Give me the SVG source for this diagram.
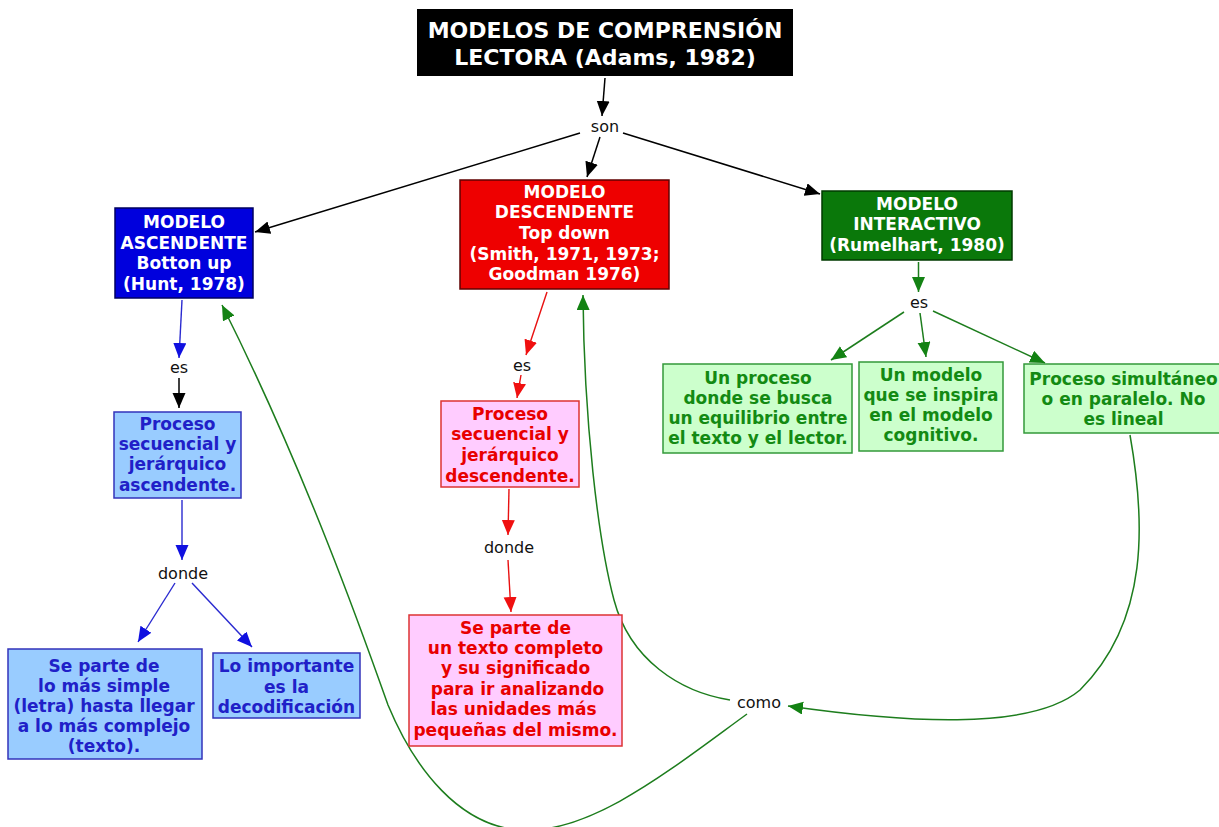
<svg xmlns="http://www.w3.org/2000/svg" width="1219" height="827" viewBox="0 0 1219 827">
<style>
.t{font-family:"DejaVu Sans","Liberation Sans",sans-serif;font-weight:bold;font-size:17px;text-anchor:middle}
.ttl{font-family:"DejaVu Sans","Liberation Sans",sans-serif;font-weight:bold;font-size:22px;text-anchor:middle;fill:#fff}
.lbl{font-family:"DejaVu Sans","Liberation Sans",sans-serif;font-size:16px;text-anchor:middle;fill:#111}
.w{fill:#fff}
.cb{fill:#2020c8}
.cr{fill:#e80000}
.cg{fill:#138a13}
.k{stroke:#000;stroke-width:1.5;fill:none;marker-end:url(#ak)}
.b{stroke:#2a2ad0;stroke-width:1.4;fill:none;marker-end:url(#ab)}
.r{stroke:#e81010;stroke-width:1.4;fill:none;marker-end:url(#ar)}
.g{stroke:#1d7d1d;stroke-width:1.5;fill:none;marker-end:url(#ag)}
</style>
<defs>
<marker id="ak" markerUnits="userSpaceOnUse" markerWidth="16" markerHeight="14" refX="15" refY="6.5" orient="auto"><path d="M0,0 L15,6.5 L0,13 z" fill="#000"/></marker>
<marker id="ab" markerUnits="userSpaceOnUse" markerWidth="16" markerHeight="14" refX="15" refY="6.5" orient="auto"><path d="M0,0 L15,6.5 L0,13 z" fill="#1010e0"/></marker>
<marker id="ar" markerUnits="userSpaceOnUse" markerWidth="16" markerHeight="14" refX="15" refY="6.5" orient="auto"><path d="M0,0 L15,6.5 L0,13 z" fill="#f01010"/></marker>
<marker id="ag" markerUnits="userSpaceOnUse" markerWidth="16" markerHeight="14" refX="15" refY="6.5" orient="auto"><path d="M0,0 L15,6.5 L0,13 z" fill="#138213"/></marker>
</defs>
<rect width="1219" height="827" fill="#fff"/>

<g id="connectors">
<path class="k" d="M605,78 L602,116"/>
<path class="k" d="M600,137 L587,177"/>
<path class="k" d="M580,133 L255,232"/>
<path class="k" d="M623,133 L820,194"/>
<path class="b" d="M182,300 L179,358"/>
<path class="k" d="M179,378 L179,408"/>
<path class="b" d="M182,500 L182,560"/>
<path class="b" d="M175,583 L138,642"/>
<path class="b" d="M192,583 L252,647"/>
<path class="r" d="M547,292 L526,355"/>
<path class="r" d="M521,375 L517,398"/>
<path class="r" d="M509,489 L508,535"/>
<path class="r" d="M508,560 L511,612"/>
<path class="g" d="M918.5,262 L918.5,292"/>
<path class="g" d="M904,312 L831,360"/>
<path class="g" d="M920,313 L926,357"/>
<path class="g" d="M933,311 L1045,363"/>
<path class="g" d="M1130,435 C1145,520 1150,620 1080,690 C1030,732 900,722 788,706"/>
<path class="g" d="M730,700 C680,692 630,660 614,600 C598,540 584,420 583,295"/>
<path class="g" d="M747,714 C670,770 590,835 520,830 C460,826 415,770 388,705 C365,640 305,470 222,305"/>
</g>

<g id="title">
<rect x="417" y="9" width="376" height="67" fill="#000"/>
<text class="ttl" x="605" y="38">MODELOS DE COMPRENSIÓN</text>
<text class="ttl" x="605" y="65">LECTORA (Adams, 1982)</text>
</g>
<g id="lbl-son"><text class="lbl" x="605" y="132">son</text></g>

<g id="modelo-ascendente">
<rect x="115" y="208" width="138" height="90" fill="#0000dd" stroke="#000060" stroke-width="1.5"/>
<text class="t w" x="184" y="228">MODELO</text>
<text class="t w" x="184" y="249">ASCENDENTE</text>
<text class="t w" x="184" y="269">Botton up</text>
<text class="t w" x="184" y="290">(Hunt, 1978)</text>
</g>
<g id="lbl-es-1"><text class="lbl" x="179" y="373">es</text></g>
<g id="proceso-ascendente">
<rect x="114" y="412" width="127" height="86" fill="#99ccff" stroke="#3333bb" stroke-width="1.5"/>
<text class="t cb" x="177.5" y="430">Proceso</text>
<text class="t cb" x="177.5" y="450">secuencial y</text>
<text class="t cb" x="177.5" y="470">jerárquico</text>
<text class="t cb" x="177.5" y="491">ascendente.</text>
</g>
<g id="lbl-donde-1"><text class="lbl" x="183" y="579">donde</text></g>
<g id="se-parte-simple">
<rect x="8" y="649" width="194" height="110" fill="#99ccff" stroke="#3333bb" stroke-width="1.5"/>
<text class="t cb" x="104" y="672">Se parte de</text>
<text class="t cb" x="104" y="692">lo más simple</text>
<text class="t cb" x="104" y="712">(letra) hasta llegar</text>
<text class="t cb" x="104" y="732">a lo más complejo</text>
<text class="t cb" x="104" y="752">(texto).</text>
</g>
<g id="lo-importante">
<rect x="213" y="653" width="147" height="65" fill="#99ccff" stroke="#3333bb" stroke-width="1.5"/>
<text class="t cb" x="286.5" y="672">Lo importante</text>
<text class="t cb" x="286.5" y="693">es la</text>
<text class="t cb" x="286.5" y="713">decodificación</text>
</g>

<g id="modelo-descendente">
<rect x="460" y="180" width="209" height="109" fill="#ee0000" stroke="#600000" stroke-width="1.5"/>
<text class="t w" x="564.5" y="198">MODELO</text>
<text class="t w" x="564.5" y="218">DESCENDENTE</text>
<text class="t w" x="564.5" y="239">Top down</text>
<text class="t w" x="564.5" y="260">(Smith, 1971, 1973;</text>
<text class="t w" x="564.5" y="280">Goodman 1976)</text>
</g>
<g id="lbl-es-2"><text class="lbl" x="522" y="371">es</text></g>
<g id="proceso-descendente">
<rect x="441" y="401" width="138" height="86" fill="#ffccff" stroke="#dd3333" stroke-width="1.5"/>
<text class="t cr" x="510" y="420">Proceso</text>
<text class="t cr" x="510" y="440">secuencial y</text>
<text class="t cr" x="510" y="461">jerárquico</text>
<text class="t cr" x="510" y="482">descendente.</text>
</g>
<g id="lbl-donde-2"><text class="lbl" x="509" y="553">donde</text></g>
<g id="se-parte-texto">
<rect x="409" y="615" width="213" height="131" fill="#ffccff" stroke="#dd3333" stroke-width="1.5"/>
<text class="t cr" x="515.5" y="634">Se parte de</text>
<text class="t cr" x="515.5" y="654">un texto completo</text>
<text class="t cr" x="515.5" y="674">y su significado</text>
<text class="t cr" x="517.5" y="695">para ir analizando</text>
<text class="t cr" x="513.5" y="715">las unidades más</text>
<text class="t cr" x="515.5" y="736">pequeñas del mismo.</text>
</g>

<g id="modelo-interactivo">
<rect x="822" y="191" width="190" height="69" fill="#0a780a" stroke="#003a00" stroke-width="1.5"/>
<text class="t w" x="917" y="210">MODELO</text>
<text class="t w" x="917" y="230">INTERACTIVO</text>
<text class="t w" x="917" y="251">(Rumelhart, 1980)</text>
</g>
<g id="lbl-es-3"><text class="lbl" x="919" y="308">es</text></g>
<g id="un-proceso">
<rect x="663" y="364" width="189" height="89" fill="#ccffcc" stroke="#33993a" stroke-width="1.5"/>
<text class="t cg" x="758" y="384">Un proceso</text>
<text class="t cg" x="758" y="404">donde se busca</text>
<text class="t cg" x="758" y="424">un equilibrio entre</text>
<text class="t cg" x="758" y="444">el texto y el lector.</text>
</g>
<g id="un-modelo">
<rect x="859" y="362" width="144" height="89" fill="#ccffcc" stroke="#33993a" stroke-width="1.5"/>
<text class="t cg" x="931" y="381">Un modelo</text>
<text class="t cg" x="931" y="401">que se inspira</text>
<text class="t cg" x="931" y="421">en el modelo</text>
<text class="t cg" x="931" y="441">cognitivo.</text>
</g>
<g id="proceso-simultaneo">
<rect x="1024" y="364" width="200" height="69" fill="#ccffcc" stroke="#33993a" stroke-width="1.5"/>
<text class="t cg" x="1123.5" y="385">Proceso simultáneo</text>
<text class="t cg" x="1123.5" y="405">o en paralelo. No</text>
<text class="t cg" x="1123.5" y="425">es lineal</text>
</g>
<g id="lbl-como"><text class="lbl" x="759" y="708">como</text></g>
</svg>
